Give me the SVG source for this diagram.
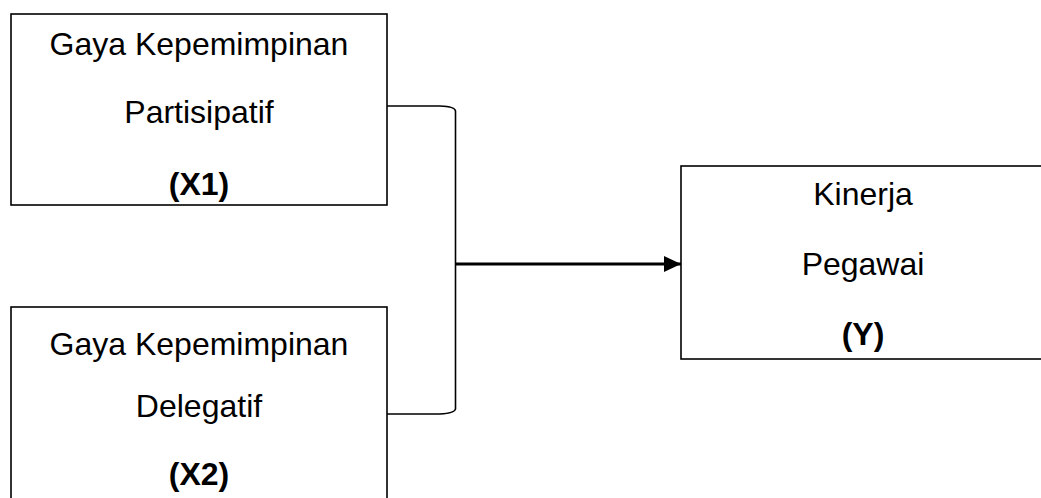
<svg xmlns="http://www.w3.org/2000/svg" width="1041" height="498" viewBox="0 0 1041 498">
<style>
.box{fill:#fff;stroke:#000;stroke-width:1.6}
.t{font-family:"Liberation Sans",Arial,sans-serif;font-size:32px;fill:#000;text-anchor:middle}
.b{font-weight:bold}
.c{fill:none;stroke:#000;stroke-width:1.6}
.a{fill:none;stroke:#000;stroke-width:2.8}
</style>
<defs>
<marker id="ah" markerWidth="17" markerHeight="17" refX="17" refY="8.5" orient="auto" markerUnits="userSpaceOnUse">
<path d="M0,0.5 L17,8.5 L0,16.5 Z" fill="#000"/>
</marker>
</defs>
<rect width="1041" height="498" fill="#fff"/>
<g id="node-x1">
<rect class="box" x="11" y="14" width="376" height="191"/>
<text class="t" x="199" y="55">Gaya Kepemimpinan</text>
<text class="t" x="199" y="123">Partisipatif</text>
<text class="t b" x="199" y="195">(X1)</text>
</g>
<g id="node-x2">
<rect class="box" x="11" y="307" width="376" height="200"/>
<text class="t" x="199" y="355">Gaya Kepemimpinan</text>
<text class="t" x="199" y="417">Delegatif</text>
<text class="t b" x="199" y="485">(X2)</text>
</g>
<g id="node-y">
<rect class="box" x="681" y="166" width="370" height="193"/>
<text class="t" x="863" y="205">Kinerja</text>
<text class="t" x="863" y="275">Pegawai</text>
<text class="t b" x="863" y="345">(Y)</text>
</g>
<g id="connectors">
<path class="c" d="M387,106 L440,106 Q455,106.5 455.5,111 L455.5,409 Q455,413 440,414 L387,414"/>
<line class="a" x1="455.5" y1="264" x2="681" y2="264" marker-end="url(#ah)"/>
</g>
</svg>
